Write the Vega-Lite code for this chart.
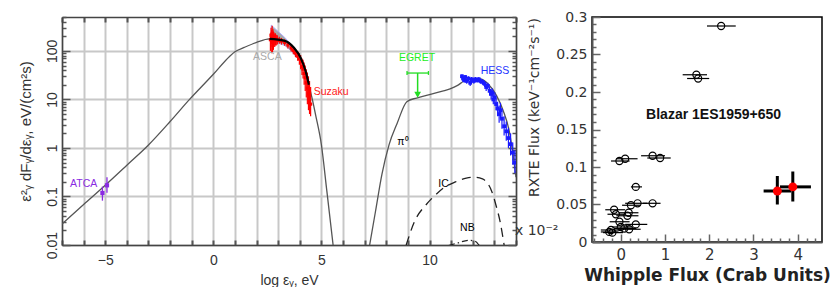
{
  "$schema": "https://vega.github.io/schema/vega-lite/v6.json",
  "background": "white",
  "padding": {"left": 18, "top": 9, "right": 5, "bottom": 0},
  "bounds": "flush",
  "spacing": 76,
  "config": {"axis": {"labelFlush": false, "labelOverlap": false, "labelBound": false}},
  "datasets": {
    "sync": [{"x":-7,"y":0.027},{"x":-6,"y":0.068},{"x":-5,"y":0.17},{"x":-4,"y":0.44},{"x":-3,"y":1.15},{"x":-2,"y":3.5},{"x":-1.1,"y":10},{"x":0,"y":33},{"x":0.75,"y":77},{"x":1.0,"y":96},{"x":1.43,"y":118},{"x":2.0,"y":150},{"x":2.6,"y":177},{"x":3.27,"y":163},{"x":3.73,"y":116},{"x":4.04,"y":72},{"x":4.27,"y":38},{"x":4.42,"y":20},{"x":4.58,"y":10},{"x":4.73,"y":4.8},{"x":5.0,"y":1.15},{"x":5.25,"y":0.13},{"x":5.54,"y":0.01}],
    "syncfit": [{"x":2.6,"y":177},{"x":3.27,"y":163},{"x":3.73,"y":116},{"x":4.04,"y":72},{"x":4.27,"y":38},{"x":4.42,"y":20}],
    "pion": [{"x":7.23,"y":0.01},{"x":7.5,"y":0.049},{"x":7.8,"y":0.29},{"x":8.13,"y":1.17},{"x":8.5,"y":3.2},{"x":8.95,"y":9},{"x":9.4,"y":10.7},{"x":10.0,"y":12.5},{"x":10.6,"y":14.8},{"x":10.95,"y":16.5},{"x":11.3,"y":19.5},{"x":11.6,"y":24},{"x":12.0,"y":26.5},{"x":12.35,"y":26.5},{"x":12.7,"y":21},{"x":13.1,"y":12},{"x":13.4,"y":6},{"x":13.7,"y":2.1},{"x":13.85,"y":0.8},{"x":14.0,"y":0.25}],
    "ic": [{"x":8.92,"y":0.01},{"x":9.3,"y":0.03},{"x":9.87,"y":0.07},{"x":10.3,"y":0.11},{"x":10.65,"y":0.15},{"x":11.2,"y":0.2},{"x":11.7,"y":0.24},{"x":12.05,"y":0.25},{"x":12.45,"y":0.23},{"x":12.87,"y":0.13},{"x":13.1,"y":0.06},{"x":13.26,"y":0.031},{"x":13.45,"y":0.01}],
    "nb": [{"x":10.9,"y":0.0098},{"x":11.3,"y":0.011},{"x":11.8,"y":0.0125},{"x":12.1,"y":0.012},{"x":12.3,"y":0.0098}],
    "asca": [{"x":2.68,"lo":150,"hi":340},{"x":3.0,"lo":145,"hi":250},{"x":3.3,"lo":130,"hi":190},{"x":3.6,"lo":100,"hi":135},{"x":3.9,"lo":70,"hi":90},{"x":4.05,"lo":60,"hi":68}],
    "suzaku": [{"x":2.64,"y":170,"lo":100,"hi":230},{"x":2.67,"y":210,"lo":120,"hi":300},{"x":2.7,"y":160,"lo":90,"hi":270},{"x":2.72,"y":230,"lo":140,"hi":330},{"x":2.74,"y":150,"lo":95,"hi":240},{"x":2.76,"y":190,"lo":120,"hi":280},{"x":2.78,"y":170,"lo":105,"hi":250},{"x":2.81,"y":185,"lo":130,"hi":240},{"x":2.84,"y":165,"lo":120,"hi":220},{"x":2.87,"y":175,"lo":130,"hi":230},{"x":2.91,"y":170,"lo":130,"hi":215},{"x":2.96,"y":168,"lo":135,"hi":210},{"x":3.05,"y":165,"lo":140,"hi":195},{"x":3.15,"y":160,"lo":135,"hi":185},{"x":3.3,"y":150,"lo":128,"hi":172},{"x":3.45,"y":132,"lo":112,"hi":155},{"x":3.6,"y":115,"lo":97,"hi":138},{"x":3.7,"y":102,"lo":85,"hi":122},{"x":3.8,"y":90,"lo":74,"hi":110},{"x":3.9,"y":78,"lo":63,"hi":98},{"x":3.98,"y":68,"lo":52,"hi":90},{"x":4.04,"y":60,"lo":42,"hi":82},{"x":4.1,"y":48,"lo":32,"hi":70},{"x":4.15,"y":42,"lo":27,"hi":66},{"x":4.2,"y":34,"lo":20,"hi":58},{"x":4.25,"y":28,"lo":15,"hi":50},{"x":4.3,"y":22,"lo":11,"hi":42},{"x":4.35,"y":17,"lo":8,"hi":36},{"x":4.4,"y":13,"lo":6,"hi":30},{"x":4.45,"y":10,"lo":5,"hi":24},{"x":4.5,"y":8,"lo":4.5,"hi":18}],
    "hess": [{"x":11.5,"y":30,"lo":27,"hi":33},{"x":11.55,"y":27,"lo":24,"hi":30},{"x":11.6,"y":25,"lo":22,"hi":28},{"x":11.65,"y":29,"lo":26,"hi":32},{"x":11.72,"y":24,"lo":21,"hi":27},{"x":11.8,"y":27,"lo":24,"hi":30},{"x":11.88,"y":22,"lo":19,"hi":25},{"x":11.95,"y":26,"lo":23,"hi":29},{"x":12.05,"y":24,"lo":21,"hi":27},{"x":12.12,"y":26,"lo":23,"hi":29},{"x":12.2,"y":25,"lo":22,"hi":28},{"x":12.28,"y":26,"lo":23,"hi":29},{"x":12.35,"y":24,"lo":21,"hi":27},{"x":12.45,"y":23,"lo":20,"hi":26},{"x":12.55,"y":21,"lo":18,"hi":24},{"x":12.62,"y":18,"lo":15,"hi":21},{"x":12.7,"y":19,"lo":16,"hi":22},{"x":12.78,"y":15,"lo":12,"hi":18},{"x":12.85,"y":13,"lo":10,"hi":16},{"x":12.9,"y":14,"lo":11,"hi":17},{"x":12.95,"y":10,"lo":8,"hi":13},{"x":13.02,"y":11,"lo":8,"hi":14},{"x":13.08,"y":8,"lo":6,"hi":10.5},{"x":13.15,"y":6.5,"lo":4.5,"hi":9},{"x":13.22,"y":5,"lo":3.3,"hi":7.5},{"x":13.28,"y":6,"lo":4,"hi":8.5},{"x":13.35,"y":4,"lo":2.5,"hi":6.5},{"x":13.45,"y":2.8,"lo":1.8,"hi":4.5},{"x":13.55,"y":2.2,"lo":1.4,"hi":3.5},{"x":13.65,"y":1.6,"lo":1,"hi":2.6},{"x":13.75,"y":1.2,"lo":0.7,"hi":2},{"x":13.85,"y":0.8,"lo":0.45,"hi":1.3},{"x":13.95,"y":0.5,"lo":0.3,"hi":0.9}],
    "atca": [{"x":-5.13,"y":0.118,"lo":0.082,"hi":0.16},{"x":-4.92,"y":0.17,"lo":0.12,"hi":0.25}],
    "egreth": [{"x":8.96,"x2":9.95,"y":35}],
    "egretcaps": [{"x":8.96,"lo":32,"hi":38.5},{"x":9.95,"lo":32,"hi":38.5}],
    "egretv": [{"x":9.45,"lo":12,"hi":35}],
    "egrettip": [{"x":9.45,"y":12.5}],
    "lbl": [{"x":-6.0,"y":0.18,"t":"ATCA"},{"x":2.5,"y":74,"t":"ASCA"},{"x":5.45,"y":14,"t":"Suzaku"},{"x":9.42,"y":72,"t":"EGRET"},{"x":13.03,"y":38,"t":"HESS"},{"x":8.77,"y":1.3,"t":"π⁰"},{"x":10.65,"y":0.18,"t":"IC"},{"x":11.75,"y":0.022,"t":"NB"}],
    "whipple": [{"x":2.27,"y":0.288,"xlo":1.95,"xhi":2.6},{"x":1.71,"y":0.223,"xlo":1.4,"xhi":1.95},{"x":1.75,"y":0.218,"xlo":1.5,"xhi":2.0},{"x":-0.03,"y":0.108,"xlo":-0.22,"xhi":0.2},{"x":0.1,"y":0.111,"xlo":-0.1,"xhi":0.38},{"x":0.72,"y":0.115,"xlo":0.46,"xhi":1.0},{"x":0.89,"y":0.112,"xlo":0.6,"xhi":1.13},{"x":0.34,"y":0.0735,"xlo":0.23,"xhi":0.48},{"x":0.38,"y":0.0516,"xlo":0.1,"xhi":0.6},{"x":0.72,"y":0.0516,"xlo":0.5,"xhi":0.9},{"x":0.23,"y":0.049,"xlo":0.03,"xhi":0.45},{"x":-0.15,"y":0.043,"xlo":-0.35,"xhi":0.1},{"x":-0.11,"y":0.037,"xlo":-0.3,"xhi":0.1},{"x":0.18,"y":0.039,"xlo":-0.05,"xhi":0.4},{"x":0.15,"y":0.035,"xlo":-0.1,"xhi":0.4},{"x":0.34,"y":0.0235,"xlo":0.1,"xhi":0.6},{"x":-0.03,"y":0.027,"xlo":-0.25,"xhi":0.2},{"x":0.08,"y":0.018,"xlo":-0.15,"xhi":0.35},{"x":0.19,"y":0.017,"xlo":-0.05,"xhi":0.45},{"x":-0.22,"y":0.016,"xlo":-0.45,"xhi":0.0},{"x":-0.19,"y":0.0125,"xlo":-0.4,"xhi":0.05},{"x":-0.26,"y":0.0134,"xlo":-0.45,"xhi":-0.05},{"x":0.0,"y":0.02,"xlo":-0.2,"xhi":0.25}],
    "red": [{"x":3.54,"y":0.068,"xlo":3.23,"xhi":3.85,"ylo":0.05,"yhi":0.088},{"x":3.89,"y":0.0735,"xlo":3.6,"xhi":4.3,"ylo":0.054,"yhi":0.094}],
    "note": [{"x":2.1,"y":0.169,"t":"Blazar 1ES1959+650"}],
    "mult": [{"x":-1.9,"y":0.015,"t":"x 10⁻²"}]
  },
  "hconcat": [
    {
      "width": 454,
      "height": 228,
      "view": {"stroke": null},
      "resolve": {"axis": {"x": "independent", "y": "independent"}},
      "layer": [
        {
          "data": {"name": "sync"},
          "mark": {"type": "line", "color": "#555", "strokeWidth": 1.3, "interpolate": "monotone", "clip": true},
          "encoding": {
            "x": {"field": "x", "type": "quantitative", "scale": {"domain": [-7, 14], "nice": false, "zero": false},
              "axis": {"orient": "bottom", "values": [-7,-6,-5,-4,-3,-2,-1,0,1,2,3,4,5,6,7,8,9,10,11,12,13,14],
                "labelExpr": "datum.value % 5 === 0 ? datum.label : ''", "labelOverlap": false,
                "tickSize": -5, "tickWidth": 2, "tickColor": "#555", "domainColor": "#444", "domainWidth": 1.5,
                "grid": true, "gridColor": "#c8c8c8", "gridWidth": 2,
                "labelPadding": 13, "labelFont": "Liberation Sans", "labelFontSize": 14, "labelColor": "#333",
                "title": "log εᵧ, eV", "titleFont": "Liberation Sans", "titleFontSize": 14, "titleFontWeight": "normal", "titleColor": "#333", "titlePadding": 6}},
            "y": {"field": "y", "type": "quantitative", "scale": {"type": "log", "domain": [0.01, 500], "nice": false},
              "axis": {"orient": "left",
                "values": [0.01,0.02,0.03,0.04,0.05,0.06,0.07,0.08,0.09,0.1,0.2,0.3,0.4,0.5,0.6,0.7,0.8,0.9,1,2,3,4,5,6,7,8,9,10,20,30,40,50,60,70,80,90,100,200,300,400,500],
                "labelExpr": "abs(log(datum.value)/LN10 - round(log(datum.value)/LN10)) < 0.001 ? format(datum.value, '~g') : ''", "labelOverlap": false,
                "tickSize": {"condition": {"test": "abs(log(datum.value)/LN10 - round(log(datum.value)/LN10)) < 0.001", "value": -8}, "value": -4},
                "tickWidth": 1.5, "tickColor": "#555", "domainColor": "#444", "domainWidth": 1.5,
                "grid": true, "gridColor": "#c8c8c8", "gridWidth": 2,
                "gridOpacity": {"condition": {"test": "abs(log(datum.value)/LN10 - round(log(datum.value)/LN10)) < 0.001", "value": 1}, "value": 0},
                "labelAngle": 270, "labelAlign": "center", "labelBaseline": "bottom", "labelPadding": 11,
                "labelFont": "Liberation Sans", "labelFontSize": 14, "labelColor": "#333",
                "title": "ε²ᵧ dFᵧ/dεᵧ,  eV/(cm²s)", "titleFont": "Liberation Sans", "titleFontSize": 15, "titleFontWeight": "normal", "titleColor": "#333", "titlePadding": 8}}
          }
        },
        {
          "data": {"name": "asca"},
          "mark": {"type": "area", "color": "#9a9a9a", "opacity": 0.85, "stroke": "#a0a0ff", "strokeWidth": 1, "clip": true},
          "encoding": {
            "x": {"field": "x", "type": "quantitative", "scale": {"domain": [-7, 14], "nice": false, "zero": false}, "axis": null},
            "y": {"field": "lo", "type": "quantitative", "scale": {"type": "log", "domain": [0.01, 500], "nice": false}, "axis": null},
            "y2": {"field": "hi"}
          }
        },
        {
          "data": {"name": "suzaku"},
          "mark": {"type": "rule", "color": "#ff0000", "strokeWidth": 1.2, "clip": true},
          "encoding": {
            "x": {"field": "x", "type": "quantitative", "scale": {"domain": [-7, 14], "nice": false, "zero": false}, "axis": null},
            "y": {"field": "lo", "type": "quantitative", "scale": {"type": "log", "domain": [0.01, 500], "nice": false}, "axis": null},
            "y2": {"field": "hi"}
          }
        },
        {
          "data": {"name": "suzaku"},
          "mark": {"type": "point", "shape": "square", "filled": true, "color": "#ff0000", "size": 10, "opacity": 1, "clip": true},
          "encoding": {
            "x": {"field": "x", "type": "quantitative", "scale": {"domain": [-7, 14], "nice": false, "zero": false}, "axis": null},
            "y": {"field": "y", "type": "quantitative", "scale": {"type": "log", "domain": [0.01, 500], "nice": false}, "axis": null}
          }
        },
        {
          "data": {"name": "syncfit"},
          "mark": {"type": "line", "color": "#000", "strokeWidth": 2.2, "interpolate": "monotone", "clip": true},
          "encoding": {
            "x": {"field": "x", "type": "quantitative", "scale": {"domain": [-7, 14], "nice": false, "zero": false},
              "axis": {"orient": "top", "values": [-7,-6,-5,-4,-3,-2,-1,0,1,2,3,4,5,6,7,8,9,10,11,12,13,14], "labels": false,
                "tickSize": -5, "tickWidth": 2, "tickColor": "#555", "domainColor": "#444", "domainWidth": 1.5, "grid": false, "title": null}},
            "y": {"field": "y", "type": "quantitative", "scale": {"type": "log", "domain": [0.01, 500], "nice": false},
              "axis": {"orient": "right",
                "values": [0.01,0.02,0.03,0.04,0.05,0.06,0.07,0.08,0.09,0.1,0.2,0.3,0.4,0.5,0.6,0.7,0.8,0.9,1,2,3,4,5,6,7,8,9,10,20,30,40,50,60,70,80,90,100,200,300,400,500],
                "labels": false,
                "tickSize": {"condition": {"test": "abs(log(datum.value)/LN10 - round(log(datum.value)/LN10)) < 0.001", "value": -8}, "value": -4},
                "tickWidth": 1.5, "tickColor": "#555", "domainColor": "#444", "domainWidth": 1.5, "grid": false, "title": null}}
          }
        },
        {
          "data": {"name": "pion"},
          "mark": {"type": "line", "color": "#555", "strokeWidth": 1.3, "interpolate": "monotone", "clip": true},
          "encoding": {
            "x": {"field": "x", "type": "quantitative", "scale": {"domain": [-7, 14], "nice": false, "zero": false}, "axis": null},
            "y": {"field": "y", "type": "quantitative", "scale": {"type": "log", "domain": [0.01, 500], "nice": false}, "axis": null}
          }
        },
        {
          "data": {"name": "ic"},
          "mark": {"type": "line", "color": "#222", "strokeWidth": 1.3, "strokeDash": [9, 6], "interpolate": "monotone", "clip": true},
          "encoding": {
            "x": {"field": "x", "type": "quantitative", "scale": {"domain": [-7, 14], "nice": false, "zero": false}, "axis": null},
            "y": {"field": "y", "type": "quantitative", "scale": {"type": "log", "domain": [0.01, 500], "nice": false}, "axis": null}
          }
        },
        {
          "data": {"name": "nb"},
          "mark": {"type": "line", "color": "#222", "strokeWidth": 1.2, "strokeDash": [6, 3, 1.5, 3], "interpolate": "monotone", "clip": true},
          "encoding": {
            "x": {"field": "x", "type": "quantitative", "scale": {"domain": [-7, 14], "nice": false, "zero": false}, "axis": null},
            "y": {"field": "y", "type": "quantitative", "scale": {"type": "log", "domain": [0.01, 500], "nice": false}, "axis": null}
          }
        },
        {
          "data": {"name": "hess"},
          "mark": {"type": "rule", "color": "#1a1aff", "strokeWidth": 1.2, "clip": true},
          "encoding": {
            "x": {"field": "x", "type": "quantitative", "scale": {"domain": [-7, 14], "nice": false, "zero": false}, "axis": null},
            "y": {"field": "lo", "type": "quantitative", "scale": {"type": "log", "domain": [0.01, 500], "nice": false}, "axis": null},
            "y2": {"field": "hi"}
          }
        },
        {
          "data": {"name": "hess"},
          "mark": {"type": "point", "shape": "square", "filled": true, "color": "#1a1aff", "size": 14, "opacity": 1, "clip": true},
          "encoding": {
            "x": {"field": "x", "type": "quantitative", "scale": {"domain": [-7, 14], "nice": false, "zero": false}, "axis": null},
            "y": {"field": "y", "type": "quantitative", "scale": {"type": "log", "domain": [0.01, 500], "nice": false}, "axis": null}
          }
        },
        {
          "data": {"name": "atca"},
          "mark": {"type": "rule", "color": "#8a2be2", "strokeWidth": 1.3},
          "encoding": {
            "x": {"field": "x", "type": "quantitative", "scale": {"domain": [-7, 14], "nice": false, "zero": false}, "axis": null},
            "y": {"field": "lo", "type": "quantitative", "scale": {"type": "log", "domain": [0.01, 500], "nice": false}, "axis": null},
            "y2": {"field": "hi"}
          }
        },
        {
          "data": {"name": "atca"},
          "mark": {"type": "point", "shape": "square", "filled": true, "color": "#8a2be2", "size": 18, "opacity": 1},
          "encoding": {
            "x": {"field": "x", "type": "quantitative", "scale": {"domain": [-7, 14], "nice": false, "zero": false}, "axis": null},
            "y": {"field": "y", "type": "quantitative", "scale": {"type": "log", "domain": [0.01, 500], "nice": false}, "axis": null}
          }
        },
        {
          "data": {"name": "egreth"},
          "mark": {"type": "rule", "color": "#22dd22", "strokeWidth": 1.3},
          "encoding": {
            "x": {"field": "x", "type": "quantitative", "scale": {"domain": [-7, 14], "nice": false, "zero": false}, "axis": null},
            "x2": {"field": "x2"},
            "y": {"field": "y", "type": "quantitative", "scale": {"type": "log", "domain": [0.01, 500], "nice": false}, "axis": null}
          }
        },
        {
          "data": {"name": "egretcaps"},
          "mark": {"type": "rule", "color": "#22dd22", "strokeWidth": 1.3},
          "encoding": {
            "x": {"field": "x", "type": "quantitative", "scale": {"domain": [-7, 14], "nice": false, "zero": false}, "axis": null},
            "y": {"field": "lo", "type": "quantitative", "scale": {"type": "log", "domain": [0.01, 500], "nice": false}, "axis": null},
            "y2": {"field": "hi"}
          }
        },
        {
          "data": {"name": "egretv"},
          "mark": {"type": "rule", "color": "#22dd22", "strokeWidth": 1.5},
          "encoding": {
            "x": {"field": "x", "type": "quantitative", "scale": {"domain": [-7, 14], "nice": false, "zero": false}, "axis": null},
            "y": {"field": "lo", "type": "quantitative", "scale": {"type": "log", "domain": [0.01, 500], "nice": false}, "axis": null},
            "y2": {"field": "hi"}
          }
        },
        {
          "data": {"name": "egrettip"},
          "mark": {"type": "point", "shape": "triangle-down", "filled": true, "color": "#22dd22", "size": 45, "opacity": 1},
          "encoding": {
            "x": {"field": "x", "type": "quantitative", "scale": {"domain": [-7, 14], "nice": false, "zero": false}, "axis": null},
            "y": {"field": "y", "type": "quantitative", "scale": {"type": "log", "domain": [0.01, 500], "nice": false}, "axis": null}
          }
        },
        {
          "data": {"name": "lbl"},
          "mark": {"type": "text", "font": "Liberation Sans", "fontSize": 10.5, "align": "center", "baseline": "middle"},
          "encoding": {
            "x": {"field": "x", "type": "quantitative", "scale": {"domain": [-7, 14], "nice": false, "zero": false}, "axis": null},
            "y": {"field": "y", "type": "quantitative", "scale": {"type": "log", "domain": [0.01, 500], "nice": false}, "axis": null},
            "text": {"field": "t"},
            "color": {"field": "t", "type": "nominal", "legend": null,
              "scale": {"domain": ["ATCA","ASCA","Suzaku","EGRET","HESS","π⁰","IC","NB"], "range": ["#8a2be2","#aaaaaa","#ff1a1a","#22ee22","#2233ff","#000000","#000000","#000000"]}}
          }
        }
      ]
    },
    {
      "width": 230,
      "height": 225,
      "view": {"stroke": "#000", "strokeWidth": 1.5},
      "resolve": {"axis": {"x": "independent", "y": "independent"}},
      "layer": [
        {
          "data": {"name": "whipple"},
          "mark": {"type": "point", "shape": "circle", "filled": false, "stroke": "#000", "strokeWidth": 1.2, "size": 50, "opacity": 1},
          "encoding": {
            "x": {"field": "x", "type": "quantitative", "scale": {"domain": [-0.65, 4.55], "nice": false, "zero": false},
              "axis": {"orient": "bottom", "values": [-0.6,-0.4,-0.2,0,0.2,0.4,0.6,0.8,1,1.2,1.4,1.6,1.8,2,2.2,2.4,2.6,2.8,3,3.2,3.4,3.6,3.8,4,4.2,4.4],
                "labelExpr": "abs(datum.value - round(datum.value)) < 0.000001 ? format(datum.value, 'd') : ''", "labelOverlap": false,
                "tickSize": {"condition": {"test": "abs(datum.value - round(datum.value)) < 0.000001", "value": -8}, "value": -4},
                "tickColor": "#666", "tickWidth": 1.5, "domainColor": "#555", "domainWidth": 2, "grid": false,
                "labelPadding": 13, "labelFont": "DejaVu Sans", "labelFontSize": 15, "labelColor": "#333",
                "title": "Whipple Flux (Crab Units)", "titleFont": "DejaVu Sans", "titleFontSize": 17, "titleFontWeight": "bold", "titleColor": "#222", "titlePadding": 1}},
            "y": {"field": "y", "type": "quantitative", "scale": {"domain": [0, 0.3], "nice": false, "zero": false},
              "axis": {"orient": "left", "values": [0,0.01,0.02,0.03,0.04,0.05,0.06,0.07,0.08,0.09,0.1,0.11,0.12,0.13,0.14,0.15,0.16,0.17,0.18,0.19,0.2,0.21,0.22,0.23,0.24,0.25,0.26,0.27,0.28,0.29,0.3],
                "labelExpr": "abs(datum.value*20 - round(datum.value*20)) < 0.000001 ? format(datum.value, '~g') : ''", "labelOverlap": false,
                "tickSize": {"condition": {"test": "abs(datum.value*20 - round(datum.value*20)) < 0.000001", "value": -8}, "value": -4},
                "tickColor": "#666", "tickWidth": 1.5, "domainColor": "#555", "domainWidth": 2, "grid": false,
                "labelPadding": 13, "labelFont": "DejaVu Sans", "labelFontSize": 14, "labelColor": "#333",
                "title": "RXTE Flux (keV⁻¹cm⁻²s⁻¹)", "titleFont": "DejaVu Sans", "titleFontSize": 14, "titleFontWeight": "normal", "titleColor": "#333",
                "titleX": -58, "titleY": 90, "titleAngle": 270, "titleAlign": "center", "titleBaseline": "middle"}}
          }
        },
        {
          "data": {"name": "whipple"},
          "mark": {"type": "rule", "color": "#000", "strokeWidth": 1.2},
          "encoding": {
            "x": {"field": "xlo", "type": "quantitative", "scale": {"domain": [-0.65, 4.55], "nice": false, "zero": false}, "axis": null},
            "x2": {"field": "xhi"},
            "y": {"field": "y", "type": "quantitative", "scale": {"domain": [0, 0.3], "nice": false, "zero": false}, "axis": null}
          }
        },
        {
          "data": {"name": "red"},
          "mark": {"type": "rule", "color": "#000", "strokeWidth": 3},
          "encoding": {
            "x": {"field": "xlo", "type": "quantitative", "scale": {"domain": [-0.65, 4.55], "nice": false, "zero": false}, "axis": null},
            "x2": {"field": "xhi"},
            "y": {"field": "y", "type": "quantitative", "scale": {"domain": [0, 0.3], "nice": false, "zero": false}, "axis": null}
          }
        },
        {
          "data": {"name": "red"},
          "mark": {"type": "rule", "color": "#000", "strokeWidth": 3},
          "encoding": {
            "x": {"field": "x", "type": "quantitative", "scale": {"domain": [-0.65, 4.55], "nice": false, "zero": false}, "axis": null},
            "y": {"field": "ylo", "type": "quantitative", "scale": {"domain": [0, 0.3], "nice": false, "zero": false}, "axis": null},
            "y2": {"field": "yhi"}
          }
        },
        {
          "data": {"name": "red"},
          "mark": {"type": "point", "shape": "circle", "filled": true, "color": "#ff0000", "size": 80, "opacity": 1},
          "encoding": {
            "x": {"field": "x", "type": "quantitative", "scale": {"domain": [-0.65, 4.55], "nice": false, "zero": false}, "axis": null},
            "y": {"field": "y", "type": "quantitative", "scale": {"domain": [0, 0.3], "nice": false, "zero": false}, "axis": null}
          }
        },
        {
          "data": {"name": "note"},
          "mark": {"type": "text", "font": "Liberation Sans", "fontSize": 14, "fontWeight": "bold", "color": "#111", "align": "center", "baseline": "middle"},
          "encoding": {
            "x": {"field": "x", "type": "quantitative", "scale": {"domain": [-0.65, 4.55], "nice": false, "zero": false}, "axis": null},
            "y": {"field": "y", "type": "quantitative", "scale": {"domain": [0, 0.3], "nice": false, "zero": false}, "axis": null},
            "text": {"field": "t"}
          }
        },
        {
          "data": {"name": "mult"},
          "mark": {"type": "text", "font": "DejaVu Sans", "fontSize": 14, "color": "#333", "align": "center", "baseline": "middle"},
          "encoding": {
            "x": {"field": "x", "type": "quantitative", "scale": {"domain": [-0.65, 4.55], "nice": false, "zero": false}, "axis": null},
            "y": {"field": "y", "type": "quantitative", "scale": {"domain": [0, 0.3], "nice": false, "zero": false}, "axis": null},
            "text": {"field": "t"}
          }
        }
      ]
    }
  ]
}
